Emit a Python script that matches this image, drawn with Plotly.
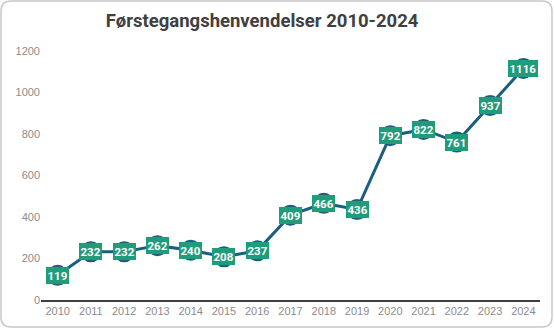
import plotly.graph_objects as go

years = ["2010", "2011", "2012", "2013", "2014", "2015", "2016", "2017",
         "2018", "2019", "2020", "2021", "2022", "2023", "2024"]
values = [119, 232, 232, 262, 240, 208, 237, 409, 466, 436, 792, 822, 761, 937, 1116]
title = "Førstegangshenvendelser 2010-2024"

LINE = "#1b5e80"
GREEN = "#1f9c7a"

idx = list(range(len(years)))

fig = go.Figure()
fig.add_trace(go.Scatter(
    x=idx, y=values, mode="lines+markers",
    line=dict(color=LINE, width=3),
    marker=dict(size=21, color=LINE),
    hoverinfo="skip", showlegend=False,
))
for i, v in zip(idx, values):
    fig.add_annotation(
        x=i, y=v, text=f"<b>{v}</b>", showarrow=False,
        font=dict(family="Roboto, Arial", size=11.5, color="white"),
        bgcolor=GREEN, bordercolor=GREEN, borderwidth=0, borderpad=1.5,
        xanchor="center", yanchor="middle",
    )

W, H = 554, 329
L, R, T, B = 41, 14, 51, 29
pw, ph = W - L - R, H - T - B

fig.update_layout(
    width=W, height=H,
    margin=dict(l=L, r=R, t=T, b=B),
    paper_bgcolor="white", plot_bgcolor="white",
    title=dict(text=f"<b>{title}</b>", x=262 / W, xanchor="center", xref="container",
               y=1 - 21 / H, yanchor="middle",
               font=dict(family="Roboto, Arial", size=18.5, color="#404040")),
    xaxis=dict(
        range=[-0.5, len(years) - 0.5], tickvals=idx, ticktext=years,
        showgrid=False, zeroline=False,
        showline=True, linecolor="#404040", linewidth=2,
        ticks="", tickfont=dict(family="Liberation Sans, Arial", size=11, color="#8c8c8c"),
        fixedrange=True,
    ),
    yaxis=dict(
        range=[0, 1200], tickvals=[0, 200, 400, 600, 800, 1000, 1200],
        showgrid=False, zeroline=False, showline=False, ticks="",
        tickfont=dict(family="Liberation Sans, Arial", size=11, color="#8c8c8c"),
        fixedrange=True,
    ),
)

def px(x):
    return (x - L) / pw
def py(y):
    return (H - B - y) / ph
r = 10
x0, x1, y0, y1 = 1, W - 2, 1, H - 2
path = (f"M {px(x0 + r)},{py(y0)} L {px(x1 - r)},{py(y0)} "
        f"Q {px(x1)},{py(y0)} {px(x1)},{py(y0 + r)} L {px(x1)},{py(y1 - r)} "
        f"Q {px(x1)},{py(y1)} {px(x1 - r)},{py(y1)} L {px(x0 + r)},{py(y1)} "
        f"Q {px(x0)},{py(y1)} {px(x0)},{py(y1 - r)} L {px(x0)},{py(y0 + r)} "
        f"Q {px(x0)},{py(y0)} {px(x0 + r)},{py(y0)} Z")
fig.add_shape(type="path", xref="paper", yref="paper", path=path,
              line=dict(color="#c8c8c8", width=1.5), layer="below")

fig.write_html("out.html")
